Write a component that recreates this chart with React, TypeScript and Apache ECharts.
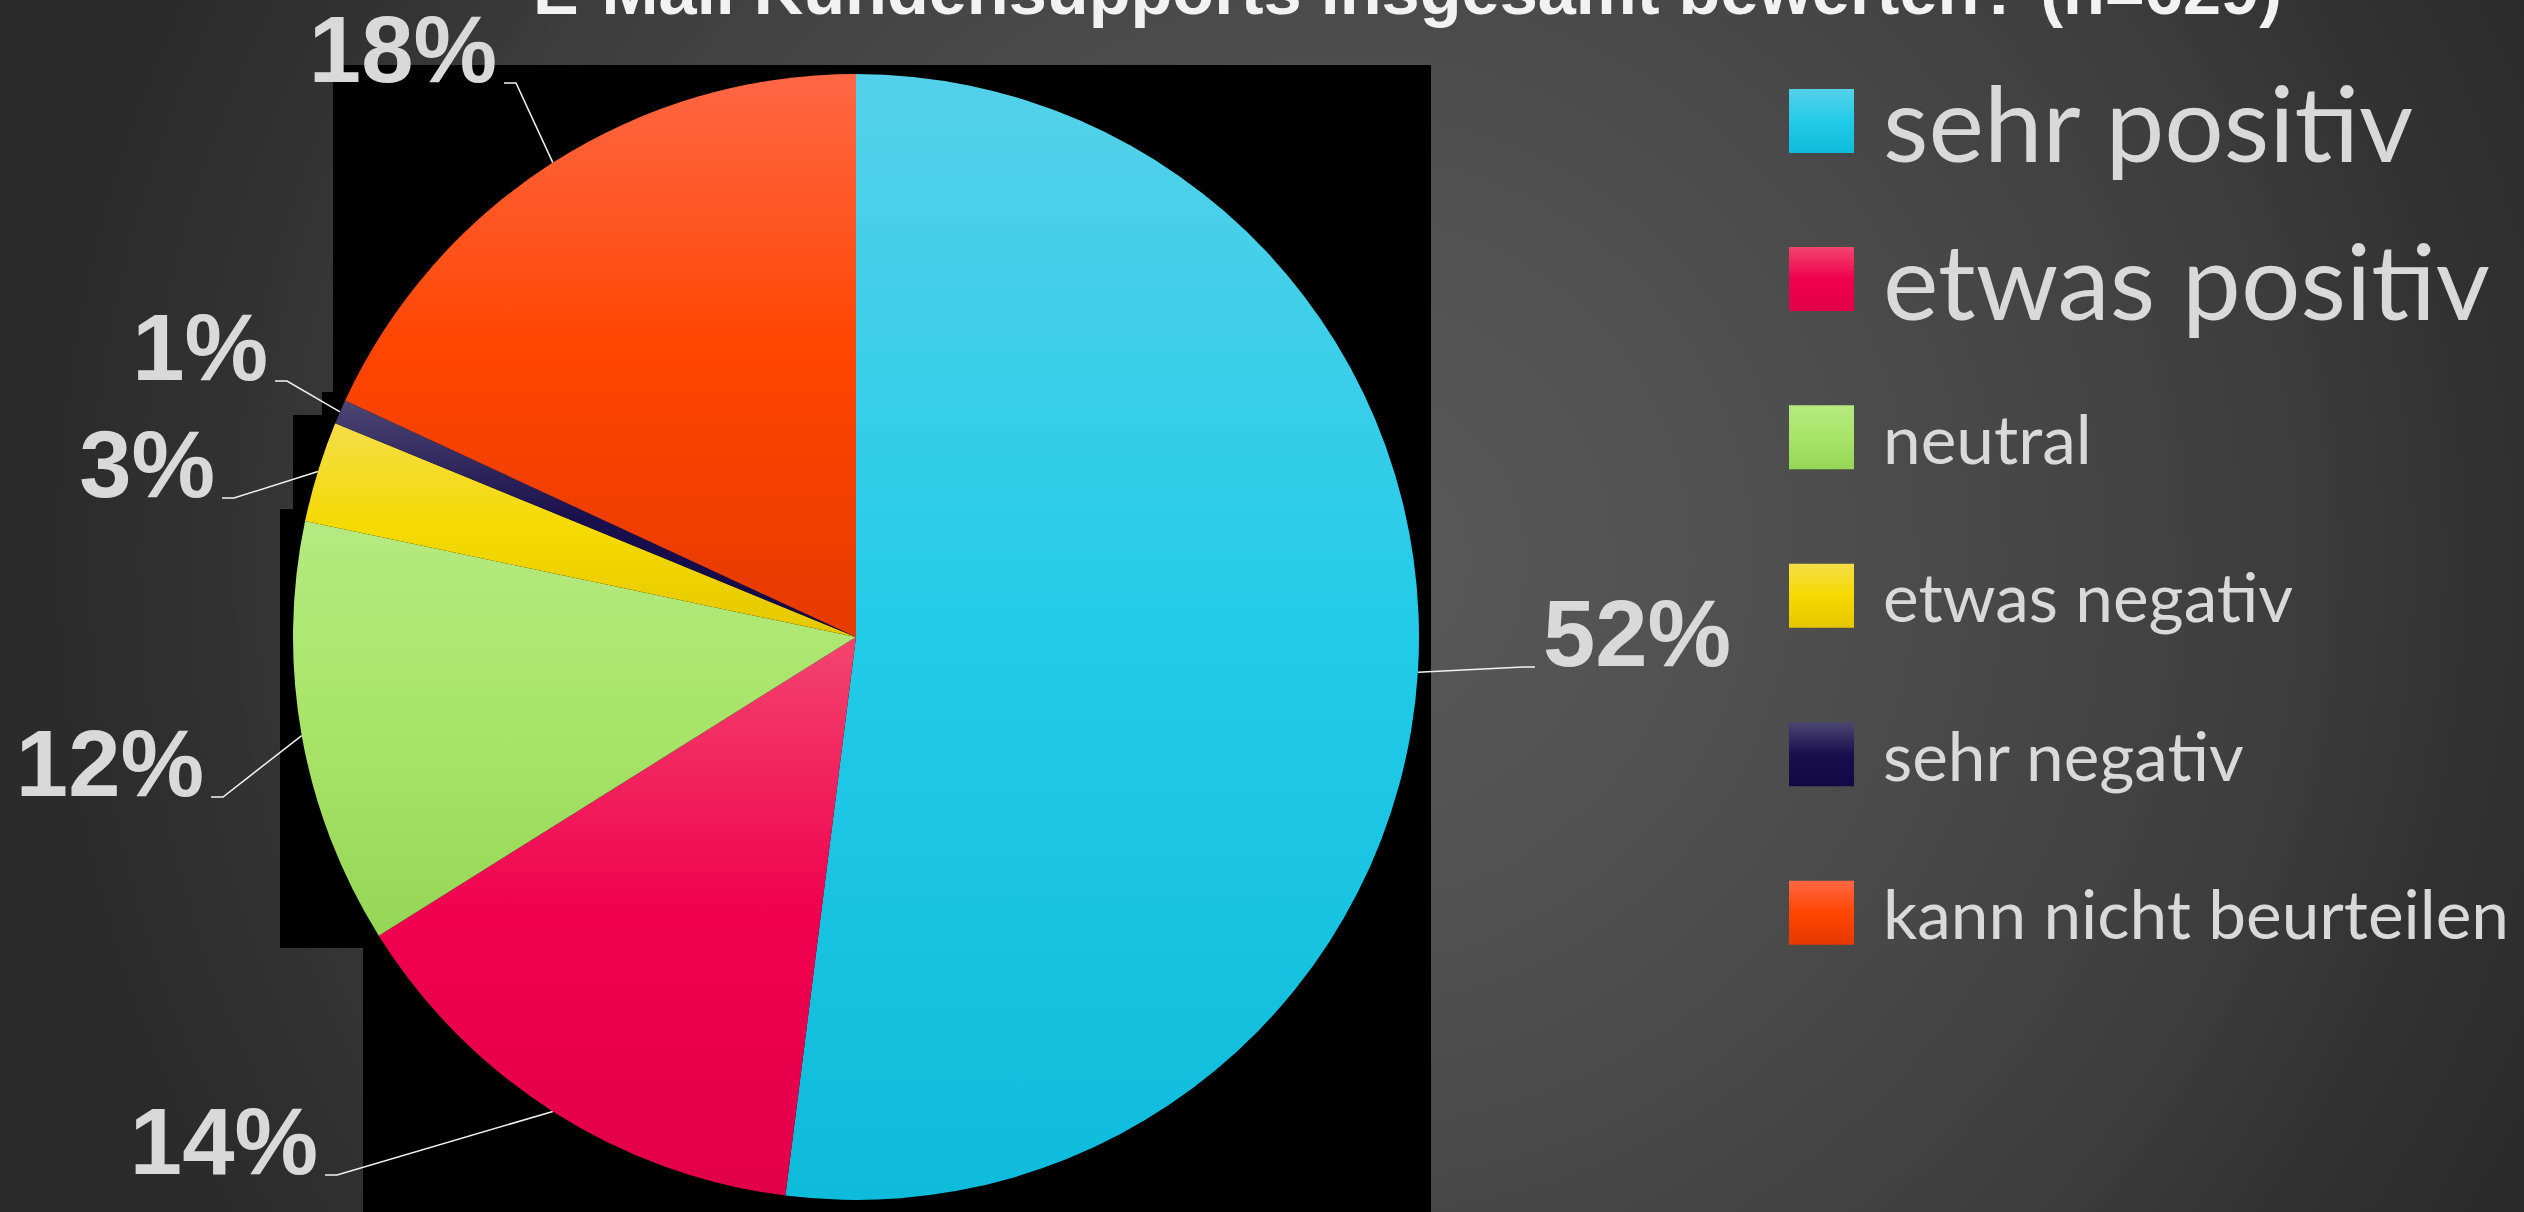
import React, { useEffect, useRef } from 'react';
import * as echarts from 'echarts';

// ---- data ----
const titleText = 'E-Mail Kundensupports insgesamt bewerten? (n=629)';
const categories = [
  'sehr positiv',
  'etwas positiv',
  'neutral',
  'etwas negativ',
  'sehr negativ',
  'kann nicht beurteilen',
];
const values = [52.0, 14.1, 12.2, 2.9, 0.7, 18.1];
// legend entries drawn in the larger type size
const emphasizedLegend = ['sehr positiv', 'etwas positiv'];

// ---- layout / style ----
const W = 2524;
const H = 1212;
const PIE_CX = 856;
const PIE_CY = 637;
const PIE_R = 563;
// where each leader line meets its label (line end near the text)
const labelAnchorX = [1535, 325, 211, 222, 275, 504];
const labelAnchorY = [667, 1175, 797, 498, 381, 83];
const LINE_LEN2 = 12;

const LEGEND_LEFT = 1789;
const LEGEND_TOP = 89;
const LEGEND_ICON_W = 65;
const LEGEND_ICON_H = 64;
const LEGEND_STEP = 158;
const LEGEND_BIG_FONT = 105;
const LEGEND_SMALL_FONT = 67.5;

const sliceColors: string[][] = [
  ['#55d1ea', '#22cbe8', '#0fbbdb'],
  ['#f3456e', '#f0004e', '#e2004a'],
  ['#b5ea80', '#a8e468', '#96d656'],
  ['#f4dd48', '#f5da00', '#e5c700'],
  ['#4c4672', '#1a0f4d', '#120845'],
  ['#ff6745', '#ff4500', '#e53a00'],
];

const blackPanel: number[][] = [
  [333, 65], [1431, 65], [1431, H], [363, H], [363, 948], [280, 948],
  [280, 509], [293, 509], [293, 415], [322, 415], [322, 392], [333, 392],
];

function grad(c: string[]) {
  return new echarts.graphic.LinearGradient(0, 0, 0, 1, [
    { offset: 0, color: c[0] },
    { offset: 0.5, color: c[1] },
    { offset: 1, color: c[2] },
  ]);
}

export default function App() {
  const ref = useRef<HTMLDivElement>(null);

  useEffect(() => {
    if (!ref.current) return;
    const chart = echarts.init(ref.current, undefined, { renderer: 'svg' });

    const total = values.reduce((a, b) => a + b, 0);
    const midEdge = (i: number) => {
      let before = 0;
      for (let k = 0; k < i; k++) before += values[k];
      const frac = (before + values[i] / 2) / total;
      const a = frac * Math.PI * 2;
      return [PIE_CX + PIE_R * Math.sin(a), PIE_CY - PIE_R * Math.cos(a)];
    };

    const bigNames = categories.filter((c) => emphasizedLegend.indexOf(c) >= 0);
    const smallNames = categories.filter((c) => emphasizedLegend.indexOf(c) < 0);

    // legend item height = max(icon height, font size); keep a constant pitch
    const makeLegend = (names: string[], firstIndex: number, fontSize: number) => {
      const itemH = Math.max(LEGEND_ICON_H, fontSize);
      return {
        orient: 'vertical',
        left: LEGEND_LEFT,
        top: LEGEND_TOP + firstIndex * LEGEND_STEP - (itemH - LEGEND_ICON_H) / 2,
        itemWidth: LEGEND_ICON_W,
        itemHeight: LEGEND_ICON_H,
        itemGap: LEGEND_STEP - itemH,
        icon: 'rect',
        selectedMode: false,
        padding: 0,
        data: names,
        textStyle: {
          fontFamily: 'Lato',
          fontSize,
          color: '#d9d9d9',
          padding: [0, 0, 0, 24],
        },
      };
    };

    const option: any = {
      animation: false,
      title: {
        text: titleText,
        left: 533,
        top: -44,
        padding: 0,
        textStyle: {
          fontFamily: 'Liberation Sans',
          fontWeight: 'bold',
          fontSize: 68.5,
          lineHeight: 68,
          color: '#f2f2f2',
        },
      },
      legend: [
        makeLegend(bigNames, 0, LEGEND_BIG_FONT),
        makeLegend(smallNames, bigNames.length, LEGEND_SMALL_FONT),
      ],
      graphic: [
        {
          type: 'rect',
          z: -20,
          silent: true,
          shape: { x: 0, y: 0, width: W, height: H },
          style: {
            fill: {
              type: 'radial',
              x: 1350,
              y: 560,
              r: 1300,
              global: true,
              colorStops: [
                { offset: 0, color: '#595959' },
                { offset: 0.25, color: '#525252' },
                { offset: 0.45, color: '#4a4a4a' },
                { offset: 0.72, color: '#3d3d3d' },
                { offset: 0.86, color: '#323232' },
                { offset: 1, color: '#2b2b2b' },
              ],
            },
          },
        },
        {
          type: 'polygon',
          z: -10,
          silent: true,
          shape: { points: blackPanel },
          style: { fill: '#000000' },
        },
      ],
      series: [
        {
          type: 'pie',
          center: [PIE_CX, PIE_CY],
          radius: PIE_R,
          startAngle: 90,
          clockwise: true,
          avoidLabelOverlap: false,
          silent: true,
          emphasis: { disabled: true },
          itemStyle: { borderWidth: 0 },
          label: {
            show: true,
            position: 'outside',
            formatter: (p: any) => `${Math.round(p.value)}%`,
            fontFamily: 'Liberation Sans',
            fontWeight: 'bold',
            fontSize: 94,
            lineHeight: 80,
            color: '#d9d9d9',
          },
          labelLine: {
            show: true,
            length: 10,
            length2: LINE_LEN2,
            lineStyle: { color: '#f2f2f2', width: 1.5 },
          },
          labelLayout: (params: any) => {
            const i = params.dataIndex;
            const ax = labelAnchorX[i];
            const ay = labelAnchorY[i];
            const right = ax > PIE_CX;
            const start =
              params.labelLinePoints && params.labelLinePoints[0]
                ? params.labelLinePoints[0]
                : midEdge(i);
            return {
              x: right ? ax + 8 : ax - 7,
              y: ay - 34,
              align: right ? 'left' : 'right',
              verticalAlign: 'middle',
              labelLinePoints: [start, [ax + (right ? -LINE_LEN2 : LINE_LEN2), ay], [ax, ay]],
            };
          },
          data: categories.map((name, i) => ({
            name,
            value: values[i],
            itemStyle: { color: grad(sliceColors[i]) },
          })),
        },
      ],
    };

    chart.setOption(option);
    return () => chart.dispose();
  }, []);

  return (
    <div
      ref={ref}
      style={{ position: 'fixed', left: 0, top: 0, width: W, height: H }}
    />
  );
}
